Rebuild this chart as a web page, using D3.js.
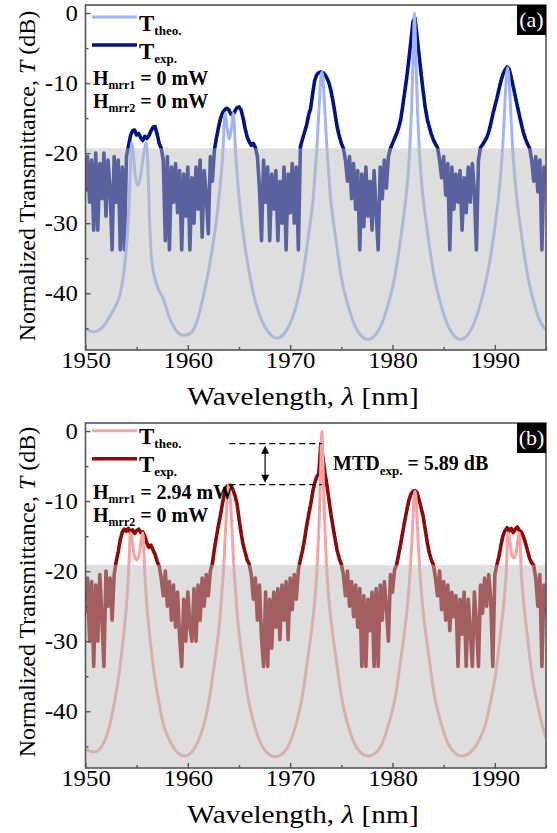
<!DOCTYPE html>
<html lang="en">
<head>
<meta charset="utf-8">
<title>Transmittance spectra</title>
<script src="https://d3js.org/d3.v7.min.js"></script>
<style>
  body { margin: 0; background: #fff; }
  svg { display: block; }
</style>
</head>
<body>
<script>

// measured spectra are sampled on a regular wavelength grid (nm)
var expStart = 1950, expStep = 0.2

// panel (a), measured transmittance in dB, 1950 -> 1995 nm
var expA = [
  -25.5, -20.5, -27, -21, -31, -20, -31, -21.5, -26.5, -20,
  -29, -21, -25, -33.8, -20.5, -27, -21, -33.8, -22, -33.8,
  -20.5, -19.0, -17.5, -16.8, -16.7, -17.4, -17.2, -17.8, -18.2, -17.6,
  -17.9, -17.5, -16.8, -16.3, -16.2, -17.3, -18.6, -19.3, -21, -32.5,
  -20.5, -33.8, -22, -27, -21.5, -28.5, -22.5, -33.8, -23, -29,
  -22, -33.8, -23.5, -30, -22, -28, -21, -32, -22.5, -26,
  -31.5, -20.5, -24, -19.5, -17.8, -16.3, -15.0, -14.2, -13.8, -13.6,
  -13.8, -14.4, -14.6, -14.0, -13.5, -13.4, -13.8, -15.0, -16.5, -17.7,
  -18.4, -18.9, -18.6, -19.2, -20.5, -25, -32.5, -21, -27, -22,
  -32.5, -23, -28, -22.5, -32.5, -24, -30, -22, -33.8, -23,
  -28.5, -21.5, -30, -22, -33.8, -19.1, -18.0, -17.0, -16.0, -14.6,
  -13.6, -11.5, -9.6, -8.8, -8.5, -8.4, -8.5, -8.8, -9.3, -10.0,
  -11.2, -12.7, -14.5, -16.3, -17.6, -18.6, -19.3, -21, -24, -20.5,
  -26.5, -21.5, -28, -22.5, -33.8, -23, -30.5, -22, -29, -24,
  -31, -22.5, -28.5, -33.8, -22, -26.5, -21, -25, -20.5, -19.3,
  -18.6, -17.9, -17.2, -16.4, -15.2, -13.3, -11.2, -9.1, -6.6, -4.0,
  -1.2, -0.7, -3.4, -6.0, -8.7, -11.2, -13.5, -15.2, -16.3, -17.3,
  -18.1, -18.7, -19.2, -21, -23.5, -20.5, -26, -21.5, -33.8, -22,
  -28, -23, -27, -22.5, -31, -23.5, -28.5, -22, -27, -21.5,
  -25.5, -33.8, -21, -19.2, -18.8, -18.3, -17.8, -17.0, -15.8, -14.5,
  -13.3, -12.2, -10.9, -9.7, -8.7, -8.1, -7.7, -8.0, -9.2, -10.5,
  -11.9, -13.3, -14.6, -15.9, -17.1, -18.0, -18.7, -19.3, -21, -24,
  -20.5, -25.5, -21, -33.8, -22, -24.5
]

// panel (b), measured transmittance in dB, 1950 -> 1995 nm
var expB = [
  -26, -21, -30, -21.5, -33.6, -22, -30, -20.5, -26.5, -33.6,
  -20, -25, -21, -27, -20.5, -18.6, -17.2, -15.5, -14.4, -14.0,
  -14.3, -13.9, -14.5, -14.1, -14.6, -14.2, -14.0, -14.5, -14.4, -15.0,
  -16.0, -16.6, -16.3, -17.0, -17.6, -18.6, -19.3, -21, -23.5, -20,
  -25, -21.5, -27, -22, -28, -23, -29.5, -33.6, -24, -30,
  -23, -28, -30, -22.5, -30, -22, -27, -21, -25, -20.5,
  -23.5, -20, -18.9, -16.8, -15.0, -13.4, -11.9, -10.2, -8.8, -7.9,
  -7.7, -7.8, -8.3, -9.2, -10.3, -12.5, -14.5, -16.2, -17.3, -18.4,
  -19.0, -20.5, -24, -21, -27, -22, -29.5, -33.6, -23, -33.6,
  -24, -31, -23, -28, -22.5, -29.8, -22, -27, -21.5, -29.8,
  -21, -25.5, -20.5, -24, -19.8, -18.4, -17.1, -15.5, -13.6, -12.0,
  -10.5, -8.7, -7.4, -6.5, -6.0, -1.8, -3.8, -6.0, -7.8, -9.9,
  -12.0, -13.8, -15.5, -17.1, -18.2, -19.0, -20.5, -23.5, -20, -25,
  -21.5, -26.5, -22, -28, -22.5, -33.6, -23.5, -33.6, -24, -28.5,
  -23, -33.6, -22.5, -33.6, -22, -27, -21.5, -25, -30, -20.5,
  -23, -19.8, -19.1, -17.6, -16.1, -14.4, -12.8, -11.3, -9.9, -9.0,
  -8.6, -8.5, -8.8, -9.8, -11.0, -12.2, -14.1, -15.9, -17.4, -18.4,
  -19.1, -21, -23.5, -20, -25.5, -21.5, -27, -22, -28.5, -23,
  -26.5, -23.5, -33.6, -24, -29, -23, -33.6, -24, -28.5, -33.6,
  -23, -27.5, -33.6, -22, -26, -21, -25, -20.5, -24, -33.6,
  -20.5, -19.1, -17.9, -16.3, -14.9, -14.2, -13.8, -14.3, -13.9, -14.5,
  -14.0, -13.7, -14.2, -14.4, -15.1, -16.0, -17.1, -18.2, -18.8, -19.2,
  -21, -25, -20.5, -33.6, -22, -26
]

// theoretical curves, read at uneven wavelengths (denser near the resonances)
var theoA_wl = [
  1950.0, 1950.5, 1950.9, 1951.5, 1952.0, 1952.5, 1953.0, 1953.4, 1953.7, 1953.9,
  1954.1, 1954.25, 1954.38, 1954.5, 1954.65, 1954.85, 1955.1, 1955.35, 1955.65, 1955.95,
  1956.1, 1956.25, 1956.45, 1956.9, 1957.6, 1958.2, 1958.8, 1959.6, 1960.4, 1961.0,
  1961.5, 1962.0, 1962.4, 1962.8, 1963.1, 1963.4, 1963.65, 1963.85, 1964.05, 1964.25,
  1964.45, 1964.65, 1964.9, 1965.2, 1965.6, 1966.1, 1966.6, 1967.2, 1967.8, 1968.7,
  1969.6, 1970.2, 1970.7, 1971.2, 1971.65, 1971.95, 1972.25, 1972.45, 1972.6, 1972.75,
  1972.9, 1973.0, 1973.1, 1973.2, 1973.3, 1973.45, 1973.6, 1973.75, 1973.95, 1974.25,
  1974.55, 1975.0, 1975.55, 1976.05, 1976.6, 1977.6, 1978.6, 1979.15, 1979.65, 1980.2,
  1980.7, 1981.0, 1981.3, 1981.55, 1981.7, 1981.85, 1981.95, 1982.05, 1982.15, 1982.25,
  1982.35, 1982.45, 1982.6, 1982.75, 1983.0, 1983.3, 1983.6, 1984.1, 1984.65, 1985.15,
  1985.7, 1986.65, 1987.6, 1988.15, 1988.65, 1989.2, 1989.75, 1990.05, 1990.35, 1990.6,
  1990.75, 1990.9, 1991.05, 1991.15, 1991.25, 1991.35, 1991.45, 1991.6, 1991.75, 1991.9,
  1992.15, 1992.45, 1992.75, 1993.25, 1993.8, 1994.3, 1995.0
]
var theoA_dB = [
  -45.0, -45.4, -45.5, -45.1, -44.2, -43.0, -41.6, -40.0, -37.5, -35.0,
  -31.5, -27.5, -22.5, -18.5, -19.8, -23.0, -24.6, -23.5, -20.5, -18.5,
  -22.0, -29.0, -35.0, -38.5, -40.8, -43.5, -45.2, -46.0, -45.5, -43.5,
  -40.5, -37.0, -33.5, -29.5, -25.5, -20.5, -14.3, -16.5, -18.0, -16.5,
  -14.3, -19.5, -24.5, -29.0, -33.5, -37.8, -41.2, -43.8, -45.4, -46.4,
  -45.4, -43.6, -41.2, -37.8, -33.2, -30.0, -26.5, -22.5, -19.5, -15.5,
  -11.5, -9.2, -8.4, -9.2, -11.5, -15.5, -19.5, -22.5, -26.5, -30.0,
  -33.2, -37.8, -41.2, -43.6, -45.4, -46.6, -45.4, -43.6, -41.2, -37.8,
  -33.2, -30.0, -26.5, -22.5, -19.0, -14.0, -9.5, -4.5, 0.0, -4.5,
  -9.5, -14.0, -19.0, -22.5, -26.5, -30.0, -33.2, -37.8, -41.2, -43.6,
  -45.4, -46.6, -45.4, -43.6, -41.2, -37.8, -33.2, -30.0, -26.5, -22.5,
  -19.5, -15.5, -11.0, -8.8, -7.8, -8.8, -11.0, -15.5, -19.5, -22.5,
  -26.5, -30.0, -33.2, -37.8, -41.2, -43.6, -45.3
]

var theoB_wl = [
  1950.0, 1950.5, 1950.9, 1951.5, 1952.0, 1952.4, 1952.85, 1953.3, 1953.7, 1954.0,
  1954.2, 1954.4, 1954.55, 1954.75, 1955.0, 1955.25, 1955.45, 1955.6, 1955.8, 1956.0,
  1956.3, 1956.7, 1957.15, 1957.6, 1958.1, 1958.7, 1959.7, 1960.6, 1961.2, 1961.7,
  1962.15, 1962.6, 1962.9, 1963.15, 1963.35, 1963.5, 1963.65, 1963.8, 1963.9, 1964.0,
  1964.1, 1964.2, 1964.35, 1964.5, 1964.65, 1964.85, 1965.1, 1965.4, 1965.85, 1966.35,
  1966.85, 1967.45, 1968.55, 1969.65, 1970.2, 1970.7, 1971.2, 1971.65, 1971.95, 1972.25,
  1972.5, 1972.65, 1972.8, 1972.9, 1973.0, 1973.1, 1973.2, 1973.3, 1973.4, 1973.55,
  1973.7, 1973.95, 1974.25, 1974.55, 1975.0, 1975.5, 1976.0, 1976.6, 1977.65, 1978.7,
  1979.25, 1979.75, 1980.3, 1980.75, 1981.05, 1981.35, 1981.6, 1981.75, 1981.9, 1982.05,
  1982.12, 1982.2, 1982.28, 1982.35, 1982.5, 1982.65, 1982.8, 1983.05, 1983.35, 1983.65,
  1984.1, 1984.65, 1985.15, 1985.75, 1986.8, 1987.8, 1988.5, 1989.1, 1989.6, 1990.1,
  1990.5, 1990.85, 1991.1, 1991.3, 1991.45, 1991.65, 1991.85, 1992.05, 1992.25, 1992.4,
  1992.6, 1992.85, 1993.2, 1993.6, 1994.1, 1994.6, 1995.0
]
var theoB_dB = [
  -45.4, -45.7, -45.8, -45.2, -43.8, -41.8, -38.5, -34.5, -29.5, -25.0,
  -20.5, -14.5, -15.5, -17.6, -18.4, -17.6, -15.5, -14.5, -20.5, -25.0,
  -29.5, -34.5, -38.5, -41.8, -43.8, -45.4, -46.4, -45.4, -43.6, -41.2,
  -37.8, -33.2, -30.0, -26.5, -22.5, -19.5, -15.0, -11.0, -8.7, -7.5,
  -8.7, -11.0, -15.0, -19.5, -22.5, -26.5, -30.0, -33.2, -37.8, -41.2,
  -43.6, -45.4, -46.5, -45.4, -43.6, -41.2, -37.8, -33.2, -30.0, -26.5,
  -22.5, -19.0, -14.0, -9.5, -4.5, 0.0, -4.5, -9.5, -14.0, -19.0,
  -22.5, -26.5, -30.0, -33.2, -37.8, -41.2, -43.6, -45.4, -46.4, -45.4,
  -43.6, -41.2, -37.8, -33.2, -30.0, -26.5, -22.5, -19.5, -15.5, -11.0,
  -9.3, -8.6, -9.3, -11.0, -15.5, -19.5, -22.5, -26.5, -30.0, -33.2,
  -37.8, -41.2, -43.6, -45.4, -46.4, -45.6, -44.0, -41.8, -38.5, -34.5,
  -29.5, -25.0, -20.5, -14.5, -15.5, -17.6, -18.1, -17.6, -15.5, -14.5,
  -20.5, -25.0, -29.5, -34.5, -38.5, -41.8, -43.8
]

var xTicks = [1950, 1960, 1970, 1980, 1990]
var xMinor = [1955, 1965, 1975, 1985, 1995]
var yTicks = [0, -10, -20, -30, -40]
var yMinor = [-5, -15, -25, -35, -45]

// level under which the measured noise floor is greyed out
var floorA = -19.3
var floorB = -19.1

var heaterA = ["0 mW", "0 mW"]
var heaterB = ["2.94 mW", "0 mW"]

// maximum transmission difference, panel (b): peak levels and their wavelengths
var mtdLevels = [-1.8, -7.65]
var mtdPeaks = [1964.05, 1973.1]
var mtdText = "5.89 dB"

var W = 557, H = 833
var plotLeft = 85.5, plotRight = 546, plotH = 345
var serif = "'Liberation Serif'"

var svg = d3.select("body").append("svg").attr("width", W).attr("height", H)

var panels = [
  { id: "a", tag: "(a)", top: 5, exp: expA, wl: theoA_wl, th: theoA_dB, floor: floorA,
    theoColor: "#a3b4f5", expColor: "#001385", heat: heaterA, legendY: 17, titleY: 176 },
  { id: "b", tag: "(b)", top: 423, exp: expB, wl: theoB_wl, th: theoB_dB, floor: floorB,
    theoColor: "#f5a3a3", expColor: "#8c0a0a", heat: heaterB, legendY: 430.7, titleY: 592 }
]

function label(parent, x, y, size) {
  return parent.append("text").attr("x", x).attr("y", y)
    .attr("font-family", serif).attr("font-size", size).attr("fill", "#000")
}

function drawPanel(p) {
  var g = svg.append("g")
  var x = d3.scaleLinear().domain([1950, 1995]).range([plotLeft, plotRight])
  var y = d3.scaleLinear().domain([-48.1, 1.15]).range([p.top + plotH, p.top])

  g.append("clipPath").attr("id", "clip-" + p.id)
    .append("rect").attr("x", plotLeft).attr("y", p.top)
    .attr("width", plotRight - plotLeft).attr("height", plotH)

  var plot = g.append("g").attr("clip-path", "url(#clip-" + p.id + ")")

  var expData = p.exp.map(function (v, i) { return [expStart + i * expStep, v] })
  var theoData = p.wl.map(function (w, i) { return [w, p.th[i]] })

  var expLine = d3.line().x(function (d) { return x(d[0]) }).y(function (d) { return y(d[1]) })
  var theoLine = d3.line().curve(d3.curveMonotoneX)
    .x(function (d) { return x(d[0]) }).y(function (d) { return y(d[1]) })

  plot.append("path").datum(expData).attr("d", expLine)
    .attr("fill", "none").attr("stroke", p.expColor).attr("stroke-width", 3.6)
    .attr("stroke-linejoin", "round")
  plot.append("path").datum(theoData).attr("d", theoLine)
    .attr("fill", "none").attr("stroke", p.theoColor).attr("stroke-width", 3)

  // translucent grey band over the noise floor
  plot.append("rect")
    .attr("x", plotLeft).attr("y", y(p.floor))
    .attr("width", plotRight - plotLeft).attr("height", y(-48.1) - y(p.floor))
    .attr("fill", "rgb(185,185,185)").attr("opacity", 0.48)

  // axes, ticks pointing inwards
  var fmt = function (d) { return String(d) }
  var xa = g.append("g").attr("transform", "translate(0," + (p.top + plotH) + ")")
  xa.call(d3.axisBottom(x).tickValues(xTicks).tickSizeInner(-5).tickSizeOuter(0).tickPadding(2).tickFormat(fmt))
  xa.append("g").call(d3.axisBottom(x).tickValues(xMinor).tickSizeInner(-3).tickSizeOuter(0).tickFormat(""))

  var ya = g.append("g").attr("transform", "translate(" + plotLeft + ",0)")
  ya.call(d3.axisLeft(y).tickValues(yTicks).tickSizeInner(-5).tickSizeOuter(0).tickPadding(7).tickFormat(fmt))
  ya.append("g").call(d3.axisLeft(y).tickValues(yMinor).tickSizeInner(-3).tickSizeOuter(0).tickFormat(""))

  g.selectAll(".domain").remove()
  g.selectAll(".tick line").attr("stroke", "#555").attr("stroke-width", 1.4)
  g.selectAll(".tick text").attr("font-family", serif).attr("font-size", 23).attr("fill", "#000")
    .attr("transform", "scale(1.08,1)")

  g.append("rect").attr("x", plotLeft).attr("y", p.top)
    .attr("width", plotRight - plotLeft).attr("height", plotH)
    .attr("fill", "none").attr("stroke", "#555").attr("stroke-width", 1.6)

  // axis titles (the source figure's lettering is a little wider than the font)
  var xt = label(g, 0, 0, 26).attr("text-anchor", "middle")
    .attr("transform", "translate(303," + (p.top + plotH + 55) + ") scale(1.13,1)")
  xt.append("tspan").text("Wavelength, ")
  xt.append("tspan").attr("font-style", "italic").text("λ")
  xt.append("tspan").text(" [nm]")

  var yt = label(g, 0, 0, 24).attr("text-anchor", "middle")
    .attr("transform", "translate(35," + p.titleY + ") rotate(-90)")
  yt.append("tspan").text("Normalized Transmittance, ")
  yt.append("tspan").attr("font-style", "italic").text("T")
  yt.append("tspan").text(" (dB)")

  // panel tag
  g.append("rect").attr("x", 517).attr("y", p.top).attr("width", 29).attr("height", 30).attr("fill", "#000")
  label(g, 531.5, p.top + 22, 22).attr("text-anchor", "middle").attr("fill", "#fff").text(p.tag)

  // legend
  var ly = p.legendY
  var rows = [
    { color: p.theoColor, w: 3, dy: 0, sub: "theo." },
    { color: p.expColor, w: 3.6, dy: 28, sub: "exp." }
  ]
  rows.forEach(function (r) {
    g.append("line").attr("x1", 92).attr("x2", 137).attr("y1", ly + r.dy).attr("y2", ly + r.dy)
      .attr("stroke", r.color).attr("stroke-width", r.w)
    var t = label(g, 139, ly + r.dy + 13.5, 23).attr("font-weight", "bold")
    t.append("tspan").text("T")
    t.append("tspan").attr("font-size", 13).attr("dy", 4).text(r.sub)
  })
  p.heat.forEach(function (h, i) {
    var t = label(g, 93, ly + 68 + i * 23, 20).attr("font-weight", "bold")
    t.append("tspan").text("H")
    t.append("tspan").attr("font-size", 12).attr("dy", 4).text("mrr" + (i + 1))
    t.append("tspan").attr("dy", -4).text(" = " + h)
  })

  return { x: x, y: y, g: g }
}

var drawn = panels.map(drawPanel)

// MTD annotation on panel (b)
var pb = drawn[1]
var ann = pb.g.append("g")
mtdLevels.forEach(function (lv) {
  ann.append("line")
    .attr("x1", pb.x(mtdPeaks[0])).attr("x2", pb.x(mtdPeaks[1]))
    .attr("y1", pb.y(lv)).attr("y2", pb.y(lv))
    .attr("stroke", "#000").attr("stroke-width", 1.1).attr("stroke-dasharray", "6,4")
})
var ax = pb.x(1967.55)
var yTop = pb.y(mtdLevels[0]) + 2, yBot = pb.y(mtdLevels[1]) - 2
ann.append("line").attr("x1", ax).attr("x2", ax).attr("y1", yTop + 6).attr("y2", yBot - 6)
  .attr("stroke", "#000").attr("stroke-width", 1.2)
ann.append("path").attr("d", "M" + ax + "," + yTop + "l-4,8h8z").attr("fill", "#000")
ann.append("path").attr("d", "M" + ax + "," + yBot + "l-4,-8h8z").attr("fill", "#000")

var mt = label(ann, 333, 470, 20).attr("font-weight", "bold")
mt.append("tspan").text("MTD")
mt.append("tspan").attr("font-size", 13).attr("dy", 5).text("exp.")
mt.append("tspan").attr("dy", -5).text(" = " + mtdText)

</script>
</body>
</html>
